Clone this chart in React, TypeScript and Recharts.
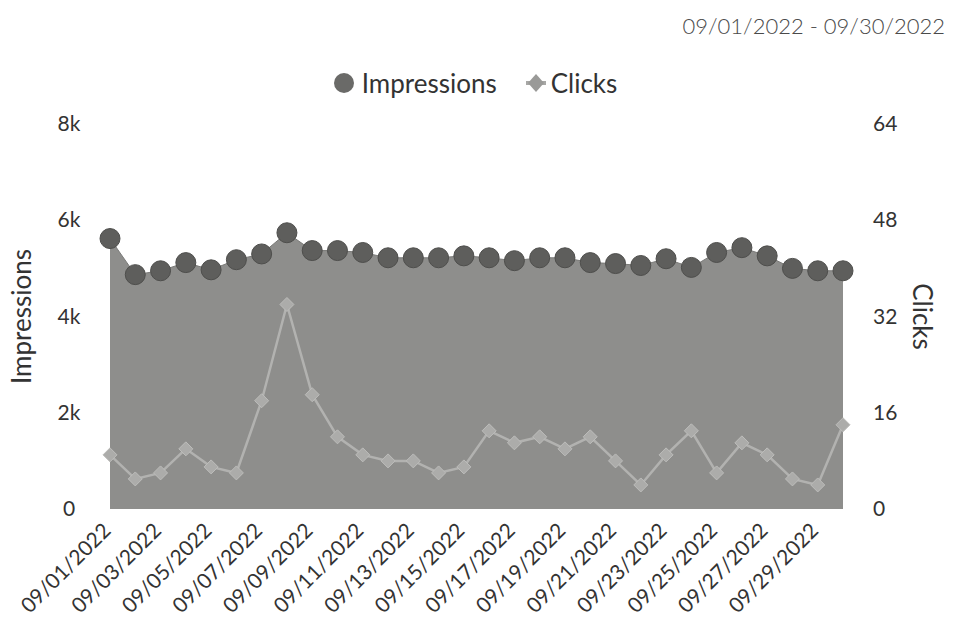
import React from "react";
import { ComposedChart, Area, Line, XAxis, YAxis } from "recharts";

const dates = [
  "09/01/2022", "09/02/2022", "09/03/2022", "09/04/2022", "09/05/2022", "09/06/2022",
  "09/07/2022", "09/08/2022", "09/09/2022", "09/10/2022", "09/11/2022", "09/12/2022",
  "09/13/2022", "09/14/2022", "09/15/2022", "09/16/2022", "09/17/2022", "09/18/2022",
  "09/19/2022", "09/20/2022", "09/21/2022", "09/22/2022", "09/23/2022", "09/24/2022",
  "09/25/2022", "09/26/2022", "09/27/2022", "09/28/2022", "09/29/2022", "09/30/2022",
];
const impressions = [
  5620, 4870, 4950, 5120, 4970, 5180, 5300, 5740, 5370, 5370, 5330, 5220, 5220, 5220, 5260,
  5220, 5160, 5220, 5220, 5120, 5100, 5060, 5200, 5020, 5330, 5430, 5260, 5000, 4950, 4950,
];
const clicks = [
  9, 5, 6, 10, 7, 6, 18, 34, 19, 12, 9, 8, 8, 6, 7, 13, 11, 12, 10, 12, 8, 4, 9, 13, 6, 11, 9, 5, 4, 14,
];
const leftTicks = [0, 2000, 4000, 6000, 8000];
const rightTicks = [0, 16, 32, 48, 64];
const title = "09/01/2022 - 09/30/2022";

const data = dates.map((d, i) => ({ date: d, impressions: impressions[i], clicks: clicks[i] }));

const FONT = "Lato, 'Open Sans', sans-serif";
const TEXT = "#333333";

const fmtK = (v: number) => (v === 0 ? "0" : `${v / 1000}k`);

const LeftTick = (props: any) => {
  const { x, y, payload } = props;
  return (
    <text x={x - 33} y={y} dy={7} textAnchor="middle" fontSize={21} fill={TEXT} fontFamily={FONT}>
      {fmtK(payload.value)}
    </text>
  );
};

const RightTick = (props: any) => {
  const { x, y, payload } = props;
  return (
    <text x={x + 22} y={y} dy={7} textAnchor="start" fontSize={21} fill={TEXT} fontFamily={FONT}>
      {payload.value}
    </text>
  );
};

const DateTick = (props: any) => {
  const { x, y, payload } = props;
  return (
    <g transform={`translate(${x + 2},${y + 15})`}>
      <text x={0} y={0} textAnchor="end" transform="rotate(-45)" fontSize={21} fill={TEXT} fontFamily={FONT}>
        {payload.value}
      </text>
    </g>
  );
};

const Diamond = (props: any) => {
  const { cx, cy } = props;
  if (cx == null || cy == null) return null;
  const s = 7;
  return (
    <polygon
      points={`${cx},${cy - s} ${cx + s},${cy} ${cx},${cy + s} ${cx - s},${cy}`}
      fill="#acacaa"
      stroke="#bdbdbb"
      strokeWidth={1}
    />
  );
};

const LegendBox = () => (
  <div
    style={{
      position: "absolute",
      top: 68,
      left: 0,
      width: 950,
      display: "flex",
      justifyContent: "center",
      alignItems: "center",
      fontFamily: FONT,
      fontSize: 26,
      color: TEXT,
      lineHeight: "30px",
    }}
  >
    <svg width={22} height={22} style={{ marginRight: 7 }}>
      <circle cx={11} cy={11} r={10} fill="#6a6a68" />
    </svg>
    <span style={{ marginRight: 29 }}>Impressions</span>
    <svg width={20} height={20} style={{ marginRight: 5 }}>
      <line x1={0} y1={10} x2={20} y2={10} stroke="#a8a8a6" strokeWidth={4} />
      <polygon points="10,1 18,10 10,19 2,10" fill="#9a9a98" />
    </svg>
    <span>Clicks</span>
  </div>
);

export default function App() {
  return (
    <div style={{ position: "absolute", left: 0, top: 0, width: 962, height: 629, background: "#fff" }}>
      <div
        style={{
          position: "absolute",
          right: 17,
          top: 12,
          fontFamily: FONT,
          fontSize: 22,
          color: "#4a4a4a",
          fontWeight: 300,
        }}
      >
        {title}
      </div>
      <LegendBox />
      <ComposedChart
        width={962}
        height={629}
        data={data}
        margin={{ top: 124, right: 0, bottom: 10, left: 0 }}
        style={{ position: "absolute", left: 0, top: 0 }}
      >
        <XAxis
          dataKey="date"
          interval={1}
          tick={<DateTick />}
          tickLine={false}
          axisLine={false}
          height={110}
        />
        <YAxis
          yAxisId="left"
          domain={[0, 8000]}
          ticks={leftTicks}
          tick={<LeftTick />}
          tickLine={false}
          axisLine={false}
          width={110}
          label={{
            value: "Impressions",
            angle: -90,
            position: "insideLeft",
            offset: 22,
            style: { textAnchor: "middle", fontSize: 26, fill: TEXT, fontFamily: FONT },
          }}
        />
        <YAxis
          yAxisId="right"
          orientation="right"
          domain={[0, 64]}
          ticks={rightTicks}
          tick={<RightTick />}
          tickLine={false}
          axisLine={false}
          width={119}
          label={{
            value: "Clicks",
            angle: 90,
            position: "insideRight",
            offset: 40,
            style: { textAnchor: "middle", fontSize: 26, fill: TEXT, fontFamily: FONT },
          }}
        />
        <Area
          yAxisId="left"
          type="linear"
          dataKey="impressions"
          name="Impressions"
          stroke="#7a7a78"
          strokeWidth={1}
          fill="#8e8e8c"
          fillOpacity={1}
          dot={{ r: 10, fill: "#5e5e5c", stroke: "#4e4e4c", strokeWidth: 1, fillOpacity: 1 }}
          activeDot={false}
          isAnimationActive={false}
        />
        <Line
          yAxisId="right"
          type="linear"
          dataKey="clicks"
          name="Clicks"
          stroke="#b2b2b0"
          strokeWidth={2.5}
          dot={<Diamond />}
          activeDot={false}
          isAnimationActive={false}
        />
      </ComposedChart>
    </div>
  );
}
